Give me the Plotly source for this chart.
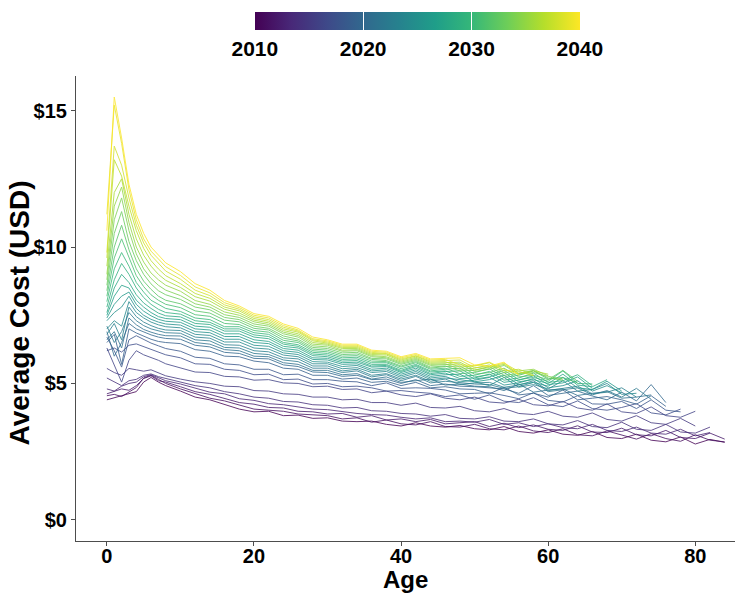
import plotly.graph_objects as go
from plotly.colors import sample_colorscale

AGES = [0, 1, 2, 3, 4, 5, 6, 7, 8] + list(range(10, 86, 2))
YEARS = list(range(2010, 2041))
X_TICKS = [0, 20, 40, 60, 80]
Y_TICKS = [0, 5, 10, 15]
Y_TICK_LABELS = ["$0", "$5", "$10", "$15"]
CBAR_TICKS = [2010, 2020, 2030, 2040]

COST_2010 = [4.40, 4.48, 4.55, 4.62, 4.70, 5.05, 5.22, 5.05, 4.92,
             4.72, 4.50, 4.40, 4.24, 4.06, 3.96, 3.98, 3.82, 3.84, 3.72,
             3.74, 3.62, 3.60, 3.62, 3.50, 3.44, 3.56, 3.44, 3.40, 3.46,
             3.34, 3.30, 3.42, 3.24, 3.18, 3.30, 3.14, 3.10, 3.24, 3.02,
             2.98, 3.14, 2.92, 2.86, 3.04, 2.78, 2.95, 2.84]
COST_2011 = [4.55, 4.60, 4.52, 4.68, 4.85, 5.20, 5.30, 5.15, 5.00,
             4.80, 4.62, 4.46, 4.36, 4.20, 4.06, 4.02, 3.98, 3.88, 3.84,
             3.82, 3.70, 3.74, 3.58, 3.66, 3.52, 3.48, 3.60, 3.42, 3.40,
             3.50, 3.34, 3.30, 3.44, 3.26, 3.20, 3.34, 3.12, 3.08, 3.26,
             3.10, 2.96, 3.16, 2.98, 2.88, 3.12, 2.92, 2.86]
COST_2012 = [4.62, 4.70, 4.80, 4.75, 4.92, 5.18, 5.28, 5.10, 5.05,
             4.88, 4.70, 4.60, 4.46, 4.30, 4.24, 4.12, 4.10, 3.98, 3.96,
             3.88, 3.90, 3.76, 3.82, 3.66, 3.70, 3.60, 3.68, 3.52, 3.56,
             3.60, 3.42, 3.54, 3.38, 3.48, 3.32, 3.28, 3.45, 3.22, 3.20,
             3.36, 3.12, 3.08, 3.28, 3.02, 2.98, 3.18, 2.96]
COST_2013 = [4.80, 4.72, 4.90, 5.00, 5.05, 5.25, 5.32, 5.20, 5.10,
             4.98, 4.84, 4.68, 4.62, 4.44, 4.38, 4.26, 4.22, 4.14, 4.06,
             4.04, 3.96, 3.90, 3.86, 3.84, 3.76, 3.70, 3.74, 3.60, 3.62,
             3.58, 3.68, 3.50, 3.56, 3.42, 3.52, 3.38, 3.34, 3.50, 3.28,
             3.24, 3.40, 3.18, 3.14, 3.32, 3.08, 3.20]
COST_2014 = [5.20, 5.05, 4.92, 5.10, 5.15, 5.30, 5.35, 5.25, 5.18,
             5.06, 4.92, 4.84, 4.70, 4.62, 4.50, 4.46, 4.34, 4.32, 4.22,
             4.20, 4.10, 4.12, 4.00, 3.98, 3.90, 3.88, 3.80, 3.86, 3.72,
             3.70, 3.78, 3.62, 3.60, 3.70, 3.52, 3.48, 3.64, 3.42, 3.38,
             3.58, 3.32, 3.28, 3.50, 3.22, 3.18, 3.40]
COST_2015 = [5.55, 5.40, 5.30, 5.55, 5.50, 5.45, 5.50, 5.38, 5.28,
             5.16, 5.06, 5.00, 4.90, 4.88, 4.74, 4.72, 4.62, 4.60, 4.50,
             4.50, 4.40, 4.42, 4.30, 4.30, 4.20, 4.28, 4.12, 4.10, 4.16,
             4.00, 3.96, 4.08, 3.90, 3.86, 3.98, 3.80, 3.76, 3.92, 3.68,
             3.62, 3.82, 3.56, 3.50, 3.72, 3.44]
COST_2016 = [6.30, 5.70, 5.05, 5.85, 6.20, 6.05, 5.95, 5.85, 5.72,
             5.58, 5.42, 5.40, 5.26, 5.24, 5.12, 5.14, 5.02, 5.00, 4.88,
             4.90, 4.78, 4.80, 4.66, 4.72, 4.58, 4.52, 4.62, 4.46, 4.40,
             4.50, 4.32, 4.28, 4.42, 4.22, 4.18, 4.34, 4.10, 4.02, 4.25,
             3.96, 3.90, 4.14, 3.82, 3.76, 3.98]
COST_2017 = [6.20, 6.30, 6.15, 6.40, 6.45, 6.35, 6.25, 6.15, 6.05,
             5.94, 5.72, 5.70, 5.52, 5.48, 5.32, 5.34, 5.14, 5.16, 4.98,
             5.00, 4.88, 4.90, 4.84, 4.72, 4.74, 4.68, 4.64, 4.52, 4.58,
             4.42, 4.58, 4.35, 4.30, 4.48, 4.22, 4.15, 4.36, 4.08, 4.02,
             4.12, 4.26, 3.92, 3.85, 4.06]
COST_2018 = [6.70, 6.20, 5.60, 6.60, 6.75, 6.60, 6.48, 6.38, 6.28,
             6.18, 5.96, 5.92, 5.72, 5.68, 5.52, 5.52, 5.32, 5.34, 5.14,
             5.14, 5.08, 5.06, 4.92, 5.02, 4.82, 4.84, 4.82, 4.76, 4.62,
             4.64, 4.66, 4.56, 4.44, 4.66, 4.38, 4.32, 4.55, 4.25, 4.24,
             4.34, 4.08, 4.40, 4.02, 3.96]
COST_2019 = [6.50, 6.80, 5.70, 7.00, 6.85, 6.72, 6.62, 6.54, 6.50,
             6.46, 6.24, 6.18, 6.00, 5.98, 5.82, 5.76, 5.56, 5.52, 5.30,
             5.30, 5.16, 5.20, 5.04, 5.08, 4.92, 5.04, 4.84, 4.88, 4.80,
             4.78, 4.62, 4.86, 4.58, 4.64, 4.50, 4.76, 4.40, 4.46, 4.52,
             4.40, 4.24, 4.55, 4.16]
COST_2020 = [6.90, 6.00, 6.50, 7.20, 7.00, 6.88, 6.78, 6.70, 6.65,
             6.62, 6.40, 6.34, 6.14, 6.10, 5.92, 5.90, 5.68, 5.62, 5.42,
             5.40, 5.26, 5.30, 5.14, 5.16, 5.00, 5.14, 4.92, 4.98, 4.90,
             4.88, 4.84, 4.80, 4.64, 4.92, 4.56, 4.64, 4.72, 4.54, 4.40,
             4.68, 4.36, 4.96, 4.30]
COST_2021 = [6.60, 6.90, 6.30, 7.40, 7.15, 6.98, 6.88, 6.80, 6.75,
             6.74, 6.50, 6.44, 6.24, 6.20, 6.00, 5.98, 5.76, 5.70, 5.48,
             5.48, 5.32, 5.36, 5.16, 5.24, 5.04, 5.10, 5.16, 4.94, 4.98,
             4.90, 4.88, 4.74, 4.98, 4.68, 4.76, 4.80, 4.56, 4.64, 4.70,
             4.46, 4.50, 4.58]
COST_2022 = [7.10, 6.50, 6.90, 7.60, 7.30, 7.12, 7.00, 6.92, 6.86,
             6.84, 6.60, 6.56, 6.32, 6.30, 6.10, 6.06, 5.86, 5.80, 5.56,
             5.56, 5.40, 5.46, 5.24, 5.32, 5.10, 5.26, 5.02, 5.08, 5.02,
             4.98, 4.96, 4.82, 4.88, 5.04, 4.70, 4.76, 4.84, 4.58, 4.74,
             4.50, 4.82, 4.42]
COST_2023 = [6.80, 7.20, 6.60, 7.80, 7.45, 7.25, 7.12, 7.02, 6.96,
             6.94, 6.70, 6.66, 6.42, 6.40, 6.20, 6.16, 5.94, 5.90, 5.64,
             5.64, 5.46, 5.52, 5.30, 5.36, 5.16, 5.30, 5.08, 5.16, 4.96,
             5.02, 5.04, 4.86, 4.94, 5.10, 4.74, 4.82, 4.90, 4.62, 4.68,
             4.84, 4.50]
COST_2024 = [7.00, 7.30, 7.10, 8.00, 7.60, 7.40, 7.25, 7.15, 7.08,
             7.04, 6.80, 6.76, 6.52, 6.52, 6.30, 6.26, 6.04, 5.98, 5.72,
             5.72, 5.54, 5.58, 5.40, 5.44, 5.22, 5.38, 5.14, 5.20, 5.14,
             5.06, 4.92, 5.22, 4.86, 4.96, 4.80, 5.10, 4.72, 4.78, 5.00,
             4.60, 4.64]
COST_2025 = [7.30, 7.60, 7.80, 8.20, 7.75, 7.50, 7.35, 7.25, 7.18,
             7.14, 6.90, 6.86, 6.62, 6.62, 6.40, 6.36, 6.12, 6.06, 5.80,
             5.78, 5.62, 5.66, 5.46, 5.50, 5.28, 5.44, 5.20, 5.26, 5.06,
             5.12, 5.22, 4.94, 5.02, 5.18, 4.84, 4.92, 5.10, 4.72, 4.92,
             4.66]
COST_2026 = [7.40, 7.90, 8.20, 8.35, 7.90, 7.65, 7.48, 7.35, 7.28,
             7.24, 7.00, 6.96, 6.72, 6.72, 6.50, 6.46, 6.20, 6.14, 5.88,
             5.86, 5.70, 5.72, 5.52, 5.56, 5.34, 5.50, 5.26, 5.32, 5.34,
             5.06, 5.14, 5.30, 4.96, 5.04, 4.90, 5.22, 4.84, 4.78, 5.08,
             4.72]
COST_2027 = [7.50, 8.20, 8.60, 8.50, 8.05, 7.80, 7.60, 7.45, 7.38,
             7.34, 7.10, 7.06, 6.82, 6.82, 6.60, 6.54, 6.28, 6.22, 5.94,
             5.92, 5.76, 5.78, 5.60, 5.62, 5.40, 5.56, 5.32, 5.38, 5.18,
             5.20, 5.34, 5.04, 5.12, 5.28, 4.96, 5.02, 5.24, 4.82]
COST_2028 = [7.60, 8.50, 9.00, 8.70, 8.25, 7.95, 7.75, 7.58, 7.48,
             7.44, 7.20, 7.16, 6.92, 6.92, 6.70, 6.64, 6.36, 6.30, 6.02,
             5.98, 5.82, 5.84, 5.64, 5.66, 5.44, 5.62, 5.36, 5.44, 5.46,
             5.16, 5.24, 5.40, 5.06, 5.14, 5.00, 5.34, 4.94, 4.88, 5.14]
COST_2029 = [7.80, 8.80, 9.40, 9.00, 8.50, 8.15, 7.90, 7.72, 7.60,
             7.54, 7.30, 7.24, 7.00, 7.00, 6.78, 6.72, 6.44, 6.36, 6.08,
             6.04, 5.88, 5.90, 5.70, 5.70, 5.48, 5.66, 5.42, 5.46, 5.26,
             5.30, 5.44, 5.12, 5.20, 5.38, 5.04, 5.10, 5.32, 4.92]
COST_2030 = [8.00, 9.20, 9.80, 9.30, 8.70, 8.35, 8.05, 7.90, 7.75,
             7.64, 7.40, 7.34, 7.08, 7.08, 6.86, 6.80, 6.50, 6.42, 6.14,
             6.10, 5.94, 5.96, 5.76, 5.76, 5.54, 5.70, 5.46, 5.52, 5.56,
             5.24, 5.32, 5.48, 5.14, 5.22, 5.08, 5.46, 5.00, 4.98]
COST_2031 = [8.20, 9.60, 10.30, 9.60, 8.95, 8.55, 8.25, 8.05, 7.90,
             7.78, 7.52, 7.46, 7.20, 7.16, 6.94, 6.88, 6.58, 6.50, 6.20,
             6.16, 6.00, 6.02, 5.82, 5.80, 5.60, 5.76, 5.52, 5.56, 5.36,
             5.40, 5.54, 5.22, 5.30, 5.46, 5.16, 5.22, 5.02]
COST_2032 = [8.40, 10.00, 10.80, 9.90, 9.20, 8.75, 8.45, 8.20, 8.05,
             7.92, 7.66, 7.58, 7.32, 7.26, 7.02, 6.96, 6.66, 6.56, 6.26,
             6.22, 6.06, 6.08, 5.88, 5.84, 5.64, 5.80, 5.56, 5.62, 5.64,
             5.34, 5.40, 5.56, 5.24, 5.30, 5.14, 5.48, 5.08]
COST_2033 = [8.60, 10.50, 11.30, 10.20, 9.50, 9.00, 8.65, 8.40, 8.25,
             8.08, 7.80, 7.70, 7.42, 7.34, 7.10, 7.02, 6.74, 6.62, 6.32,
             6.28, 6.12, 6.14, 5.92, 5.90, 5.70, 5.84, 5.60, 5.64, 5.46,
             5.48, 5.62, 5.30, 5.36, 5.48, 5.20, 5.12]
COST_2034 = [8.80, 11.00, 11.80, 10.60, 9.75, 9.20, 8.85, 8.60, 8.42,
             8.22, 7.92, 7.80, 7.52, 7.42, 7.18, 7.10, 6.82, 6.70, 6.38,
             6.34, 6.18, 6.20, 5.98, 5.94, 5.74, 5.88, 5.66, 5.70, 5.72,
             5.44, 5.52, 5.66, 5.34, 5.40, 5.26, 5.16]
COST_2035 = [9.00, 11.50, 12.20, 10.90, 10.00, 9.45, 9.05, 8.80, 8.60,
             8.38, 8.04, 7.90, 7.62, 7.50, 7.26, 7.16, 6.88, 6.76, 6.44,
             6.40, 6.22, 6.24, 6.02, 5.98, 5.78, 5.92, 5.70, 5.72, 5.52,
             5.56, 5.68, 5.40, 5.46, 5.52, 5.28]
COST_2036 = [9.30, 12.00, 12.50, 11.20, 10.30, 9.70, 9.30, 9.00, 8.78,
             8.52, 8.18, 8.02, 7.72, 7.58, 7.32, 7.22, 6.94, 6.82, 6.50,
             6.44, 6.28, 6.28, 6.06, 6.04, 5.82, 5.96, 5.74, 5.76, 5.78,
             5.50, 5.58, 5.70, 5.38, 5.46, 5.34]
COST_2037 = [9.60, 13.20, 12.60, 11.50, 10.60, 9.95, 9.50, 9.20, 8.95,
             8.66, 8.30, 8.12, 7.80, 7.66, 7.38, 7.28, 7.00, 6.88, 6.56,
             6.48, 6.32, 6.32, 6.10, 6.08, 5.86, 6.00, 5.78, 5.80, 5.60,
             5.64, 5.76, 5.46, 5.52, 5.32]
COST_2038 = [9.80, 13.70, 13.00, 11.80, 10.80, 10.15, 9.70, 9.40, 9.12,
             8.82, 8.42, 8.22, 7.88, 7.72, 7.44, 7.34, 7.06, 6.92, 6.60,
             6.52, 6.36, 6.36, 6.14, 6.10, 5.90, 6.02, 5.82, 5.84, 5.86,
             5.58, 5.62, 5.74, 5.44, 5.28]
COST_2039 = [11.20, 15.20, 13.80, 12.10, 11.00, 10.30, 9.85, 9.55, 9.28,
             8.96, 8.54, 8.32, 7.96, 7.78, 7.50, 7.40, 7.12, 6.96, 6.64,
             6.56, 6.40, 6.40, 6.18, 6.14, 5.94, 6.06, 5.86, 5.88, 5.68,
             5.66, 5.78, 5.52, 5.34]
COST_2040 = [10.60, 15.50, 14.00, 12.30, 11.20, 10.50, 10.00, 9.70, 9.42,
             9.10, 8.66, 8.42, 8.04, 7.84, 7.56, 7.46, 7.18, 7.02, 6.70,
             6.60, 6.44, 6.44, 6.22, 6.18, 5.98, 6.10, 5.90, 5.92, 5.94,
             5.68, 5.64, 5.78, 5.30]

SERIES = [COST_2010, COST_2011, COST_2012, COST_2013, COST_2014, COST_2015,
          COST_2016, COST_2017, COST_2018, COST_2019, COST_2020, COST_2021,
          COST_2022, COST_2023, COST_2024, COST_2025, COST_2026, COST_2027,
          COST_2028, COST_2029, COST_2030, COST_2031, COST_2032, COST_2033,
          COST_2034, COST_2035, COST_2036, COST_2037, COST_2038, COST_2039,
          COST_2040]

FONT = "Liberation Sans, Arial, sans-serif"

fig = go.Figure()
for year, vals in zip(YEARS, SERIES):
    col = sample_colorscale("Viridis", [(year - YEARS[0]) / (YEARS[-1] - YEARS[0])])[0]
    fig.add_trace(go.Scatter(
        x=AGES[:len(vals)], y=vals, mode="lines",
        line=dict(color=col, width=1.0), opacity=0.8,
        showlegend=False, hoverinfo="skip"))

# colour bar
fig.add_trace(go.Scatter(
    x=[None], y=[None], mode="markers", showlegend=False, hoverinfo="skip",
    marker=dict(color=[YEARS[0]], colorscale="Viridis", cmin=YEARS[0], cmax=YEARS[-1],
                showscale=True,
                colorbar=dict(orientation="h", x=0.518, xanchor="center",
                              y=1.137, yanchor="top", ypad=0, xpad=0,
                              len=325, lenmode="pixels", thickness=18,
                              thicknessmode="pixels", outlinewidth=0,
                              tickvals=CBAR_TICKS, ticks="inside", ticklen=18,
                              tickcolor="white", tickwidth=1,
                              tickfont=dict(family=FONT, size=21, color="black", weight="bold")))))

fig.update_layout(
    width=748, height=595,
    margin=dict(l=76, r=13, t=74, b=54),
    paper_bgcolor="white", plot_bgcolor="white",
    font=dict(family=FONT, color="black"),
    annotations=[
        dict(text="Age", xref="paper", yref="paper", x=0.5, y=-0.0835,
             xanchor="center", yanchor="middle", showarrow=False, borderpad=0,
             font=dict(size=24, weight="bold", color="black")),
        dict(text="Average Cost (USD)", xref="paper", yref="paper", x=-0.086, y=0.49,
             xanchor="center", yanchor="middle", textangle=-90, showarrow=False,
             borderpad=0, font=dict(size=28, weight="bold", color="black")),
    ],
)
fig.update_xaxes(
    range=[-4.2, 85.4], tickvals=X_TICKS, showgrid=False, zeroline=False,
    showline=True, linecolor="#4d4d4d", linewidth=1.2, automargin=False,
    ticks="outside", ticklen=4, tickcolor="#4d4d4d", tickwidth=1.2,
    ticklabelstandoff=-7,
    tickfont=dict(size=20, weight="bold", color="black"))
fig.update_yaxes(
    range=[-0.775, 16.27], tickvals=Y_TICKS, ticktext=Y_TICK_LABELS,
    showgrid=False, zeroline=False, automargin=False,
    showline=True, linecolor="#4d4d4d", linewidth=1.2,
    ticks="outside", ticklen=4, tickcolor="#4d4d4d", tickwidth=1.2,
    tickfont=dict(size=20, weight="bold", color="black"))

fig.write_html("out.html")
